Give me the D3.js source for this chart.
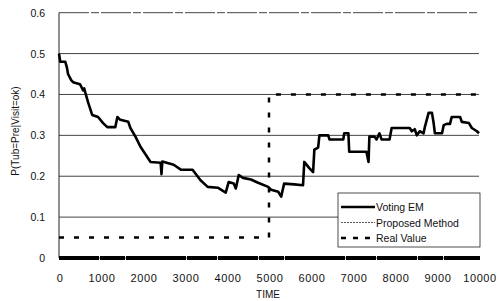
<!DOCTYPE html>
<html>
<head>
<meta charset="utf-8">
<script src="https://cdn.jsdelivr.net/npm/d3@7"></script>
<style>
  body { margin: 0; background: #fff; }
  svg { display: block; font-family: "Liberation Sans", Arial, sans-serif; }
</style>
</head>
<body>
<script>
// Voting EM estimate
const emTime = [0, 30, 150, 190, 215, 290, 335, 500, 575, 600, 625, 695, 790, 930, 1050, 1150, 1340, 1390, 1460,
  1650, 1700, 1820, 1940, 2180, 2420, 2440, 2460, 2730, 2900, 3180, 3370, 3540, 3780, 3970, 4040, 4160, 4210,
  4280, 4380, 4570, 4740, 4980, 5050, 5220, 5290, 5360, 5600, 5810, 5840, 5960, 6050, 6080, 6170, 6200, 6410,
  6440, 6770, 6790, 6890, 6910, 7320, 7370, 7390, 7510, 7560, 7630, 7680, 7870, 7920, 8350, 8400, 8470, 8520,
  8590, 8680, 8710, 8800, 8880, 8920, 8950, 9120, 9160, 9230, 9310, 9350, 9550, 9590, 9760, 9830, 9950, 10000];
const emValue = [0.50, 0.48, 0.48, 0.465, 0.45, 0.435, 0.43, 0.425, 0.41, 0.415, 0.405, 0.38, 0.35, 0.345, 0.33, 0.32, 0.32, 0.345, 0.338,
  0.333, 0.318, 0.297, 0.272, 0.235, 0.233, 0.205, 0.236, 0.228, 0.216, 0.216, 0.19, 0.174, 0.172, 0.16, 0.186, 0.182, 0.17,
  0.203, 0.196, 0.192, 0.184, 0.174, 0.167, 0.162, 0.15, 0.182, 0.18, 0.178, 0.235, 0.22, 0.21, 0.265, 0.27, 0.30, 0.30,
  0.29, 0.29, 0.305, 0.305, 0.26, 0.26, 0.235, 0.297, 0.297, 0.29, 0.305, 0.29, 0.29, 0.318, 0.318, 0.31, 0.315, 0.30,
  0.31, 0.305, 0.32, 0.355, 0.355, 0.33, 0.305, 0.305, 0.325, 0.328, 0.328, 0.345, 0.345, 0.333, 0.33, 0.318, 0.31, 0.305];

// Proposed method (hidden along the axis) and real value
const propTime = [0, 10000];
const propValue = [0, 0];
const realTime = [0, 5000, 5000, 10000];
const realValue = [0.05, 0.05, 0.4, 0.4];

const xTicks = [0, 1000, 2000, 3000, 4000, 5000, 6000, 7000, 8000, 9000, 10000];
const yTicks = [0, 0.1, 0.2, 0.3, 0.4, 0.5, 0.6];
const legendLabels = ["Voting EM", "Proposed Method", "Real Value"];

const width = 500, height = 301;
const svg = d3.select("body").append("svg")
  .attr("width", width)
  .attr("height", height);

const x = d3.scaleLinear().domain([0, 10000]).range([59, 479]);
const y = d3.scaleLinear().domain([0, 0.6]).range([258, 12.7]);

// gridlines
svg.append("g")
  .selectAll("line")
  .data(yTicks.filter(d => d > 0))
  .join("line")
  .attr("x1", x(0)).attr("x2", x(10000))
  .attr("y1", d => y(d)).attr("y2", d => y(d))
  .attr("stroke", "#444")
  .attr("stroke-width", 1)
  .attr("stroke-dasharray", d => d === 0.6 ? "30,2,8,2" : null);

// left axis line
svg.append("line")
  .attr("x1", x(0)).attr("x2", x(0))
  .attr("y1", y(0.6)).attr("y2", y(0))
  .attr("stroke", "#222");

// y tick labels
svg.append("g")
  .selectAll("text")
  .data(yTicks)
  .join("text")
  .attr("x", 45)
  .attr("y", d => y(d) + 4)
  .attr("text-anchor", "end")
  .attr("font-size", "10.5px")
  .attr("fill", "#111")
  .text(d => d === 0 ? "0" : d3.format(".1f")(d));

// x tick labels
svg.append("g")
  .selectAll("text")
  .data(xTicks)
  .join("text")
  .attr("x", d => x(d) + 1)
  .attr("y", 282)
  .attr("text-anchor", "middle")
  .attr("font-size", "11px")
  .attr("letter-spacing", "0.6px")
  .attr("fill", "#111")
  .text(d => d);

// axis titles
svg.append("text")
  .attr("x", 268).attr("y", 298)
  .attr("text-anchor", "middle")
  .attr("font-size", "10px")
  .attr("fill", "#111")
  .text("TIME");

svg.append("text")
  .attr("transform", "translate(19,131) rotate(-90)")
  .attr("text-anchor", "middle")
  .attr("font-size", "10px")
  .attr("fill", "#111")
  .text("P(Tub=Pre|Visit=ok)");

const line = d3.line().x(d => x(d[0])).y(d => y(d[1]));

// proposed method
svg.append("path")
  .datum(propTime.map((t, i) => [t, propValue[i]]))
  .attr("d", line)
  .attr("fill", "none")
  .attr("stroke", "#666")
  .attr("stroke-width", 1);

// thick bottom axis bar
svg.append("line")
  .attr("x1", x(0)).attr("x2", x(10000) + 1)
  .attr("y1", y(0)).attr("y2", y(0))
  .attr("stroke", "#000")
  .attr("stroke-width", 4)
  .attr("stroke-dasharray", "40,1,25,1,60,1,30,1");

// real value
svg.append("path")
  .datum(realTime.map((t, i) => [t, realValue[i]]))
  .attr("d", line)
  .attr("fill", "none")
  .attr("stroke", "#000")
  .attr("stroke-width", 2.5)
  .attr("stroke-dasharray", "5,10");

// voting EM
svg.append("path")
  .datum(emTime.map((t, i) => [t, emValue[i]]))
  .attr("d", line)
  .attr("fill", "none")
  .attr("stroke", "#000")
  .attr("stroke-width", 2.6)
  .attr("stroke-linejoin", "round");

// legend
const legend = svg.append("g").attr("transform", "translate(338,193)");
legend.append("rect")
  .attr("width", 142).attr("height", 54)
  .attr("fill", "#fff")
  .attr("stroke", "#222")
  .attr("stroke-width", 0.8);

const legendStyles = [
  { w: 2.6, dash: null, color: "#000" },
  { w: 1, dash: "2,1", color: "#555" },
  { w: 2.5, dash: "5,7", color: "#000" }
];
legendLabels.forEach((label, i) => {
  const ly = 14 + i * 15.5;
  legend.append("line")
    .attr("x1", 3).attr("x2", 37)
    .attr("y1", ly).attr("y2", ly)
    .attr("stroke", legendStyles[i].color)
    .attr("stroke-width", legendStyles[i].w)
    .attr("stroke-dasharray", legendStyles[i].dash);
  legend.append("text")
    .attr("x", 38).attr("y", ly + 4)
    .attr("font-size", "10.5px")
    .attr("fill", "#111")
    .text(label);
});
</script>
</body>
</html>
